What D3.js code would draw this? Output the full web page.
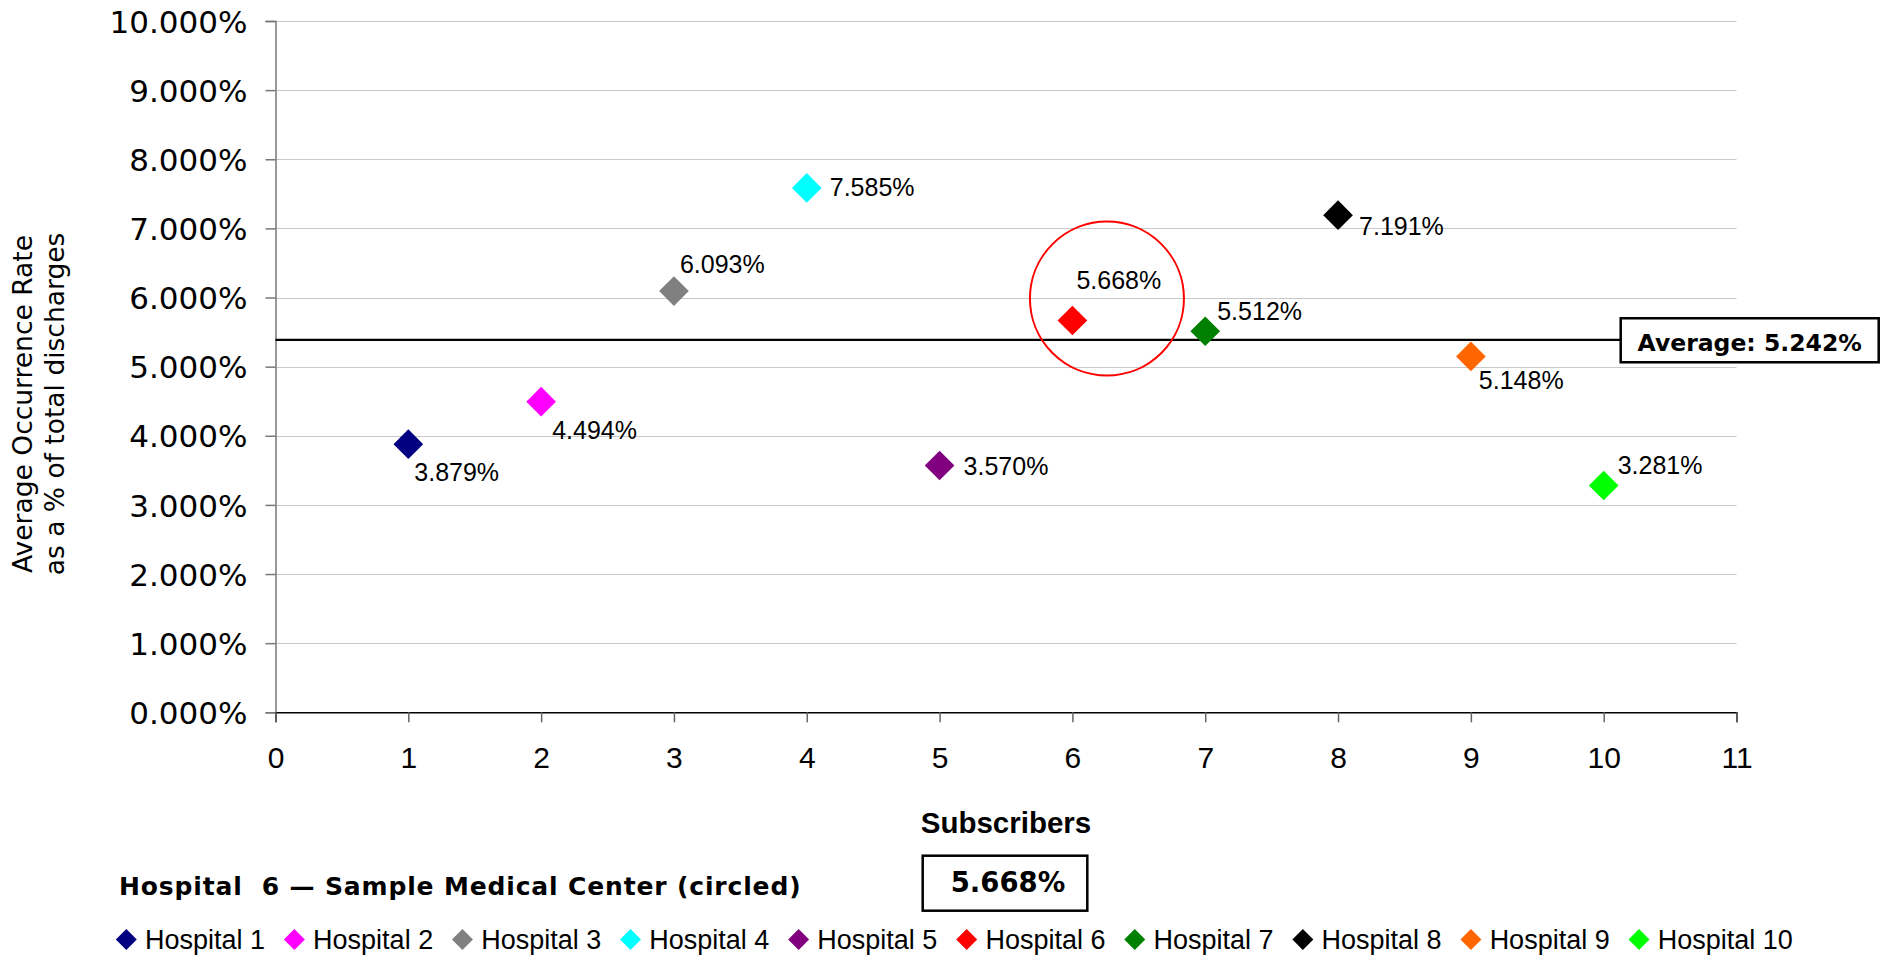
<!DOCTYPE html>
<html>
<head>
<meta charset="utf-8">
<script src="https://cdn.jsdelivr.net/npm/d3@7"></script>
<style>
  body { margin: 0; background: #fff; }
  svg { display: block; }
</style>
</head>
<body>
<svg id="plot"></svg>
<script>
const width = 1889;
const height = 956;

// data
const hospitals = ['Hospital 1','Hospital 2','Hospital 3','Hospital 4','Hospital 5',
  'Hospital 6','Hospital 7','Hospital 8','Hospital 9','Hospital 10'];
const subscribers = [1,2,3,4,5,6,7,8,9,10];
const rates = [3.879, 4.494, 6.093, 7.585, 3.570, 5.668, 5.512, 7.191, 5.148, 3.281];
const colors = ['#000080','#ff00ff','#808080','#00ffff','#800080',
  '#ff0000','#008000','#000000','#ff6600','#00ff00'];
const yTicks = [0,1,2,3,4,5,6,7,8,9,10];
const xTicks = [0,1,2,3,4,5,6,7,8,9,10,11];
const averageLabel = 5.242;
const averageLineAt = 5.386;   // where the line sits in the picture
const highlighted = 5;          // index of Hospital 6
const circleAt = [6.26, 5.985];

// label offsets from each point (dx, dy to baseline)
const labelOffsets = [[6,37],[11,37],[6,-18],[23,8],[24,9],[4,-31],[12,-11],[21,20],[8,33],[14,-11]];

let svg, sx, sy;

function main(){
  svg = d3.select('svg#plot')
  .attr('width', width)
  .attr('height', height);

  svg.append('rect').attr('width', width).attr('height', height).attr('fill', '#fff');

  sx = d3.scaleLinear().domain([0,11]).range([275.5, 1736.5]);
  sy = d3.scaleLinear().domain([0,10]).range([712.3, 21]);

  drawGrid();
  drawAxes();
  drawAverage();
  drawPoints();
  drawTitles();
  drawLegend();
}

function drawGrid(){
  svg.append('g')
  .selectAll('line')
  .data(yTicks.filter(d=>d>0))
  .enter()
  .append('line')
  .attr('x1', sx(0)).attr('x2', sx(11))
  .attr('y1', d=>Math.round(sy(d))+0.5).attr('y2', d=>Math.round(sy(d))+0.5)
  .attr('stroke', '#c8c8c8')
  .attr('stroke-width', 1.2);
}

function drawAxes(){
  // y axis
  const yAxis = d3.axisLeft(sy)
  .tickValues(yTicks)
  .tickSize(10)
  .tickPadding(18)
  .tickFormat(d=>d3.format('.3f')(d)+'%');
  const gy = svg.append('g')
  .attr('transform', `translate(${sx(0)},0)`)
  .call(yAxis);
  gy.select('.domain').attr('stroke', '#777').attr('stroke-width', 1.5);
  gy.selectAll('.tick line').attr('stroke', '#777').attr('stroke-width', 1.5);
  gy.selectAll('.tick text')
  .attr('font-family', '"DejaVu Sans", Verdana, sans-serif')
  .attr('font-size', 31)
  .attr('fill', '#000')
  .attr('dy', '0.36em');

  // x axis
  const xAxis = d3.axisBottom(sx)
  .tickValues(xTicks)
  .tickSize(10)
  .tickPadding(0)
  .tickFormat(d3.format('d'));
  const gx = svg.append('g')
  .attr('transform', `translate(0,${sy(0)})`)
  .call(xAxis);
  gx.select('.domain').attr('stroke', '#000').attr('stroke-width', 1.5);
  gx.selectAll('.tick line').attr('stroke', '#666').attr('stroke-width', 1.5);
  gx.selectAll('.tick text')
  .attr('font-family', '"Liberation Sans", Arial, sans-serif')
  .attr('font-size', 30)
  .attr('fill', '#000')
  .attr('y', 56)
  .attr('dy', 0);
}

function drawAverage(){
  const yAvg = sy(averageLineAt);
  const boxX = 1620.7, boxW = 258, boxH = 44;

  svg.append('line')
  .attr('x1', sx(0)).attr('x2', boxX)
  .attr('y1', yAvg).attr('y2', yAvg)
  .attr('stroke', '#000')
  .attr('stroke-width', 2.2);

  svg.append('rect')
  .attr('x', boxX).attr('y', yAvg - 21.7)
  .attr('width', boxW).attr('height', boxH)
  .attr('fill', '#fff')
  .attr('stroke', '#000')
  .attr('stroke-width', 2.5);

  svg.append('text')
  .attr('x', boxX + boxW/2).attr('y', yAvg + 10.7)
  .attr('text-anchor', 'middle')
  .attr('font-family', '"DejaVu Sans", Verdana, sans-serif')
  .attr('font-weight', 'bold')
  .attr('font-size', 23.5)
  .text('Average: ' + d3.format('.3f')(averageLabel) + '%');

  // circle around the highlighted hospital
  svg.append('circle')
  .attr('cx', sx(circleAt[0])).attr('cy', sy(circleAt[1]))
  .attr('r', 77)
  .attr('fill', 'none')
  .attr('stroke', '#ff0000')
  .attr('stroke-width', 2);
}

function drawPoints(){
  const diamond = d3.symbol(d3.symbolSquare, 440);

  svg.append('g')
  .selectAll('path')
  .data(rates)
  .enter()
  .append('path')
  .attr('d', diamond)
  .attr('transform', (d,i)=>`translate(${sx(subscribers[i])},${sy(d)}) rotate(45)`)
  .attr('fill', (d,i)=>colors[i]);

  svg.append('g')
  .selectAll('text')
  .data(rates)
  .enter()
  .append('text')
  .attr('x', (d,i)=>sx(subscribers[i]) + labelOffsets[i][0])
  .attr('y', (d,i)=>sy(d) + labelOffsets[i][1])
  .attr('font-family', '"Liberation Sans", Arial, sans-serif')
  .attr('font-size', 25)
  .attr('fill', '#000')
  .text(d=>d3.format('.3f')(d)+'%');
}

function drawTitles(){
  const axisTitle = svg.append('text')
  .attr('transform', 'translate(0,404) rotate(-90)')
  .attr('text-anchor', 'middle')
  .attr('font-family', '"DejaVu Sans", Verdana, sans-serif')
  .attr('font-size', 26.5)
  .attr('fill', '#000');
  axisTitle.append('tspan').attr('x', 0).attr('y', 32).text('Average Occurrence Rate');
  axisTitle.append('tspan').attr('x', 0).attr('y', 64).text('as a % of total discharges');

  const cx = (sx(0) + sx(11)) / 2;
  svg.append('text')
  .attr('x', cx).attr('y', 833)
  .attr('text-anchor', 'middle')
  .attr('font-family', '"Liberation Sans", Arial, sans-serif')
  .attr('font-weight', 'bold')
  .attr('font-size', 29.5)
  .text('Subscribers');

  svg.append('text')
  .attr('x', 119).attr('y', 895)
  .attr('font-family', '"DejaVu Sans", Verdana, sans-serif')
  .attr('font-weight', 'bold')
  .attr('font-size', 25)
  .attr('letter-spacing', 0.85)
  .style('white-space', 'pre')
  .text(hospitals[highlighted].replace(' ', '  ') + ' \u2014 Sample Medical Center (circled)');

  svg.append('rect')
  .attr('x', 922.7).attr('y', 855.7)
  .attr('width', 164.6).attr('height', 55)
  .attr('fill', '#fff')
  .attr('stroke', '#000')
  .attr('stroke-width', 2.5);

  svg.append('text')
  .attr('x', 1008).attr('y', 892)
  .attr('text-anchor', 'middle')
  .attr('font-family', '"DejaVu Sans", Verdana, sans-serif')
  .attr('font-weight', 'bold')
  .attr('font-size', 27.5)
  .text(d3.format('.3f')(rates[highlighted]) + '%');
}

function drawLegend(){
  const legendY = 939.5;
  const diamond = d3.symbol(d3.symbolSquare, 220);
  const g = svg.append('g');
  let x = 126.3;
  hospitals.forEach((h,i)=>{
    g.append('path')
    .attr('d', diamond)
    .attr('transform', `translate(${x},${legendY}) rotate(45)`)
    .attr('fill', colors[i]);
    const t = g.append('text')
    .attr('x', x + 18.7)
    .attr('y', legendY + 9.5)
    .attr('font-family', '"Liberation Sans", Arial, sans-serif')
    .attr('font-size', 27)
    .attr('fill', '#000')
    .text(h);
    x = x + 18.7 + t.node().getComputedTextLength() + 29.3;
  });
}

document.addEventListener('DOMContentLoaded', main);
</script>
</body>
</html>
